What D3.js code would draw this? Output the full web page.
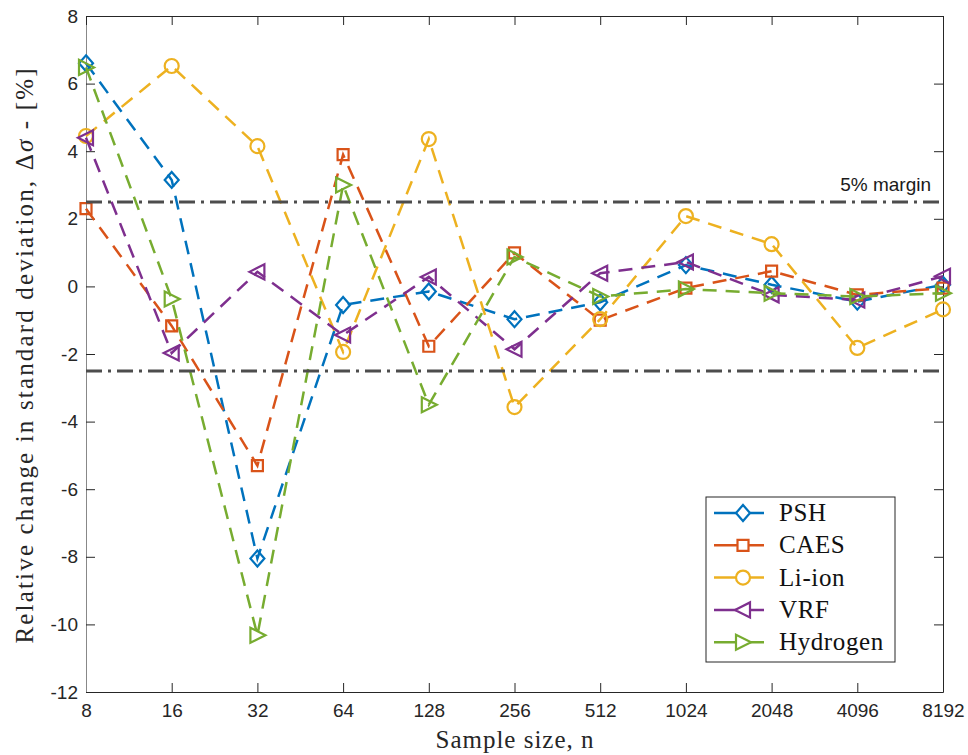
<!DOCTYPE html>
<html>
<head>
<meta charset="utf-8">
<script src="https://cdn.jsdelivr.net/npm/d3@7"></script>
<style>
body { margin: 0; background: #fff; }
svg { display: block; }
</style>
</head>
<body>
<svg id="chart" width="968" height="755"></svg>
<script>
// sample sizes on the x axis
var sampleSizes = [8, 16, 32, 64, 128, 256, 512, 1024, 2048, 4096, 8192];

// relative change in std deviation, %
var psh      = [6.6, 3.15, -8.05, -0.55, -0.15, -0.97, -0.47, 0.63, 0.05, -0.45, 0.05];
var caes     = [2.3, -1.17, -5.3, 3.9, -1.77, 0.99, -1.0, -0.05, 0.45, -0.25, -0.05];
var liion    = [4.45, 6.52, 4.15, -1.94, 4.36, -3.57, -0.97, 2.08, 1.25, -1.82, -0.68];
var vrf      = [4.4, -1.97, 0.43, -1.44, 0.28, -1.86, 0.39, 0.72, -0.25, -0.4, 0.3];
var hydrogen = [6.48, -0.37, -10.32, 3.0, -3.5, 0.87, -0.3, -0.08, -0.2, -0.3, -0.2];

var seriesNames = ["PSH", "CAES", "Li-ion", "VRF", "Hydrogen"];
var seriesValues = [psh, caes, liion, vrf, hydrogen];
var seriesColors = ["#0072BD", "#D95319", "#EDB120", "#7E2F8E", "#77AC30"];
var seriesMarkers = ["diamond", "square", "circle", "left", "right"];

var yTicks = [-12, -10, -8, -6, -4, -2, 0, 2, 4, 6, 8];
var marginLevels = [2.5, -2.5];

var plotLeft = 86, plotRight = 943, plotTop = 16, plotBottom = 692;

var svg = d3.select("#chart");

var x = d3.scalePoint().domain(sampleSizes).range([plotLeft, plotRight]);
var y = d3.scaleLinear().domain([-12, 8]).range([plotBottom, plotTop]);

// marker shape paths, centred on 0,0
function markerPath(kind) {
	if (kind == "diamond") return "M0,-8L7,0L0,8L-7,0Z";
	if (kind == "square") return "M-5.5,-5.5H5.5V5.5H-5.5Z";
	if (kind == "circle") return "M7,0A7,7 0 1,1 -7,0A7,7 0 1,1 7,0Z";
	if (kind == "left") return "M-8,0L7,-7.5L7,7.5Z";
	return "M8,0L-7,-7.5L-7,7.5Z";
}

// plain hyphen for negatives, like the original
function plainNum(d) { return String(d); }

// axes box
var axisColor = "#262626";
var xAxis = d3.axisBottom(x).tickSizeInner(-9).tickSizeOuter(0).tickPadding(12);
var yAxis = d3.axisLeft(y).tickValues(yTicks).tickFormat(plainNum)
	.tickSizeInner(-9).tickSizeOuter(0).tickPadding(8);

var gx = svg.append("g").attr("transform", "translate(0," + plotBottom + ")").call(xAxis);
var gy = svg.append("g").attr("transform", "translate(" + plotLeft + ",0)").call(yAxis);
var gxTop = svg.append("g").attr("transform", "translate(0," + plotTop + ")")
	.call(d3.axisTop(x).tickSizeInner(-9).tickSizeOuter(0).tickFormat(""));
var gyRight = svg.append("g").attr("transform", "translate(" + plotRight + ",0)")
	.call(d3.axisRight(y).tickValues(yTicks).tickSizeInner(-9).tickSizeOuter(0).tickFormat(""));

[gx, gy, gxTop, gyRight].forEach(function(g) {
	g.select(".domain").attr("stroke", axisColor).attr("stroke-width", 1);
	g.selectAll(".tick line").attr("stroke", axisColor).attr("stroke-width", 1);
	g.selectAll(".tick text")
		.attr("fill", axisColor)
		.style("font-family", "'Liberation Sans', Arial, sans-serif")
		.style("font-size", "19px");
});
gy.select(".domain").attr("stroke", "#888");

// series lines and markers
var line = d3.line()
	.x(function(d, i) { return x(sampleSizes[i]); })
	.y(function(d) { return y(d); });

for (var s = 0; s < seriesValues.length; s++) {
	svg.append("path")
		.attr("d", line(seriesValues[s]))
		.attr("fill", "none")
		.attr("stroke", seriesColors[s])
		.attr("stroke-width", 2.5)
		.attr("stroke-dasharray", "14,9");

	svg.selectAll(".m" + s)
		.data(seriesValues[s])
		.enter().append("path")
		.attr("class", "m" + s)
		.attr("transform", function(d, i) { return "translate(" + x(sampleSizes[i]) + "," + y(d) + ")"; })
		.attr("d", markerPath(seriesMarkers[s]))
		.attr("fill", "none")
		.attr("stroke", seriesColors[s])
		.attr("stroke-width", 2.2);
}

// +/- 2.5% margin lines
svg.selectAll(".margin")
	.data(marginLevels)
	.enter().append("line")
	.attr("x1", plotLeft).attr("x2", plotRight)
	.attr("y1", function(d) { return y(d); })
	.attr("y2", function(d) { return y(d); })
	.attr("stroke", "#4d4d4d")
	.attr("stroke-width", 3)
	.attr("stroke-dasharray", "16,6,3,6");

svg.append("text")
	.attr("x", 931).attr("y", y(2.5) - 11)
	.attr("text-anchor", "end")
	.style("font-family", "'Liberation Sans', Arial, sans-serif")
	.style("font-size", "19px")
	.attr("fill", "#1a1a1a")
	.text("5% margin");

// axis titles (latex font is wider, so stretch the spacing)
var serif = "'Liberation Serif', 'Times New Roman', serif";
svg.append("text")
	.attr("x", (plotLeft + plotRight) / 2).attr("y", 748)
	.attr("text-anchor", "middle")
	.attr("textLength", 158).attr("lengthAdjust", "spacing")
	.style("font-family", serif).style("font-size", "25px")
	.attr("fill", axisColor)
	.text("Sample size, n");

var yl = svg.append("text")
	.attr("transform", "translate(33," + ((plotTop + plotBottom) / 2 + 2) + ") rotate(-90)")
	.attr("text-anchor", "middle")
	.attr("textLength", 575).attr("lengthAdjust", "spacing")
	.style("font-family", serif).style("font-size", "25px")
	.attr("fill", axisColor);
yl.append("tspan").text("Relative change in standard deviation, \u0394");
yl.append("tspan").style("font-style", "italic").text("\u03c3");
yl.append("tspan").text(" - [%]");

// legend
var lg = svg.append("g").attr("transform", "translate(706,497)");
lg.append("rect")
	.attr("width", 189).attr("height", 165)
	.attr("fill", "#fff")
	.attr("stroke", "#262626").attr("stroke-width", 1);

for (var k = 0; k < seriesNames.length; k++) {
	var ly = 16 + k * 32.3;
	lg.append("line")
		.attr("x1", 8).attr("x2", 58)
		.attr("y1", ly).attr("y2", ly)
		.attr("stroke", seriesColors[k]).attr("stroke-width", 2.5);
	lg.append("path")
		.attr("transform", "translate(37," + ly + ")")
		.attr("d", markerPath(seriesMarkers[k]))
		.attr("fill", "#fff")
		.attr("stroke", seriesColors[k]).attr("stroke-width", 2.2);
	lg.append("text")
		.attr("x", 73).attr("y", ly + 8)
		.style("font-family", serif).style("font-size", "25px")
		.style("letter-spacing", "0.6px")
		.attr("fill", "#111")
		.text(seriesNames[k]);
}
</script>
</body>
</html>
